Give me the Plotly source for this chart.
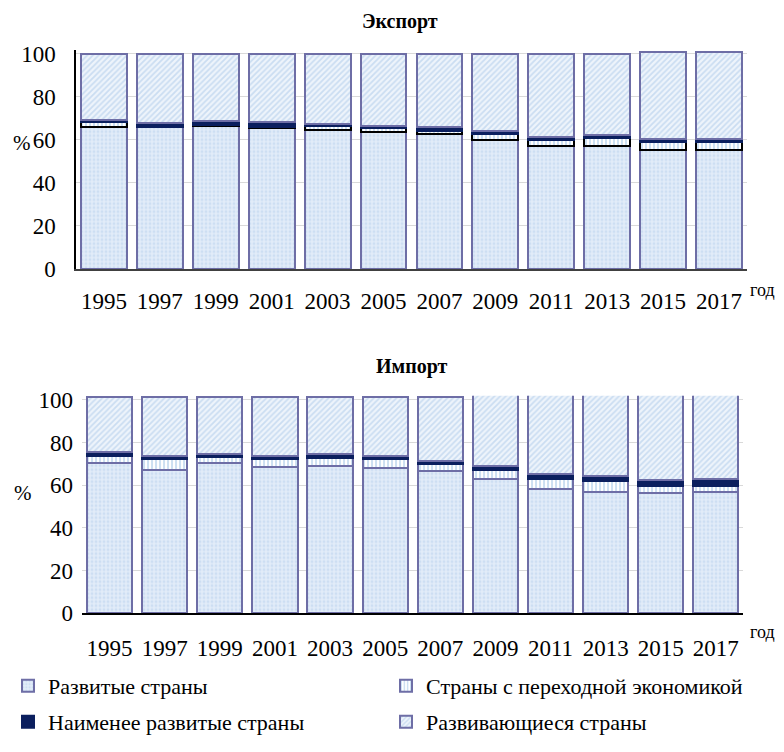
import plotly.graph_objects as go

# годы и доли (%)
years = ["1995", "1997", "1999", "2001", "2003", "2005",
         "2007", "2009", "2011", "2013", "2015", "2017"]

exp_dev = [66.2, 65.9, 66.6, 65.8, 64.8, 63.8, 62.9, 60.0, 57.2, 57.2, 55.3, 55.3]
exp_trans = [2.0, 0.3, 0.3, 0.3, 1.6, 1.8, 1.4, 2.8, 2.8, 3.7, 3.7, 3.7]
exp_ldc = [1.2, 1.5, 1.8, 2.3, 0.8, 0.8, 1.9, 1.5, 1.2, 1.3, 1.3, 1.3]
exp_total = [100, 100, 100, 100, 100, 100, 100, 100, 100, 100, 100.7, 100.7]

imp_dev = [70.3, 67.3, 70.3, 68.7, 69.2, 68.3, 66.7, 62.8, 58.1, 57.0, 56.2, 57.0]
imp_trans = [3.4, 4.8, 2.8, 3.5, 3.5, 3.8, 3.3, 4.6, 4.8, 4.8, 3.6, 2.7]
imp_ldc = [2.0, 1.6, 1.8, 1.6, 1.8, 1.5, 1.6, 1.6, 2.3, 2.4, 2.5, 3.2]
imp_total = [101.5, 101.5, 101.5, 101.5, 101.5, 101.5, 101.5, 103, 103, 103, 103, 103]

exp_devg = [t - a - b - c for t, a, b, c in zip(exp_total, exp_dev, exp_trans, exp_ldc)]
imp_devg = [t - a - b - c for t, a, b, c in zip(imp_total, imp_dev, imp_trans, imp_ldc)]

names = ["Развитые страны", "Страны с переходной экономикой",
         "Наименее развитые страны", "Развивающиеся страны"]

edge = "#6e6ea6"
font = "Liberation Serif, 'Times New Roman', DejaVu Serif, serif"

W, H = 776, 744  # страница имеет отступ 8 px

styles = [
    dict(color="#dfeaf6", pattern=dict(shape=".", fgcolor="#b8d0eb", bgcolor="#e2ecf8", size=4, solidity=0.4)),
    dict(color="white", pattern=dict(shape="|", fgcolor="#6fa6da", bgcolor="white", size=4, solidity=0.35)),
    dict(color="#0b1f5e"),
    dict(color="#eef4fb", pattern=dict(shape="/", fgcolor="#a6c6e8", bgcolor="#eef4fb", size=4, solidity=0.45)),
]

fig = go.Figure()

exp_series = [exp_dev, exp_trans, exp_ldc, exp_devg]
imp_series = [imp_dev, imp_trans, imp_ldc, imp_devg]
exp_lines = [edge, "black", "#0b1f5e", edge]
imp_lines = [edge, edge, "#0b1f5e", edge]
legends = ["legend", "legend", "legend2", "legend2"]

for i in range(4):
    fig.add_trace(go.Bar(
        x=years, y=exp_series[i], name=names[i], xaxis="x", yaxis="y",
        marker=dict(**styles[i], line=dict(color=exp_lines[i], width=2)),
        showlegend=False,
    ))
for i in range(4):
    fig.add_trace(go.Bar(
        x=years, y=imp_series[i], name=names[i], xaxis="x2", yaxis="y2",
        marker=dict(**styles[i], line=dict(color=imp_lines[i], width=2)),
        legend=legends[i],
    ))

tickfont = dict(family=font, size=23, color="black")
legfont = dict(family=font, size=22, color="black")

fig.update_layout(
    width=W, height=H,
    margin=dict(l=0, r=0, t=0, b=0, autoexpand=False),
    paper_bgcolor="white", plot_bgcolor="rgba(0,0,0,0)",
    barmode="stack", bargap=0.18,
    font=dict(family=font, size=20, color="black"),
    xaxis=dict(domain=[0.0876, 0.9523], anchor="y", type="category",
               showline=True, linecolor="#404040", linewidth=1.5,
               tickfont=tickfont, ticklabelstandoff=11, showgrid=False),
    yaxis=dict(domain=[0.6492, 0.9440], anchor="x", range=[0, 102],
               tickvals=[0, 20, 40, 60, 80, 100], showline=True,
               linecolor="black", linewidth=1.5, gridcolor="#d9d9d9",
               tickfont=tickfont, ticklabelstandoff=14, zeroline=False),
    xaxis2=dict(domain=[0.0954, 0.9477], anchor="y2", type="category",
                showline=True, linecolor="black", linewidth=1.5,
                tickfont=tickfont, ticklabelstandoff=13, showgrid=False),
    yaxis2=dict(domain=[0.1864, 0.4789], anchor="x2", range=[0, 102],
                tickvals=[0, 20, 40, 60, 80, 100], showline=False,
                gridcolor="#d9d9d9", tickfont=tickfont,
                ticklabelstandoff=8, zeroline=False),
    legend=dict(orientation="h", x=0.0, xanchor="left", y=0.0887, yanchor="middle",
                entrywidth=333, font=legfont, itemwidth=30, traceorder="normal",
                bgcolor="rgba(0,0,0,0)"),
    legend2=dict(orientation="h", x=0.0, xanchor="left", y=0.0403, yanchor="middle",
                 entrywidth=333, font=legfont, itemwidth=30, traceorder="normal",
                 bgcolor="rgba(0,0,0,0)"),
)

annots = [
    dict(text="<b>Экспорт</b>", x=392, y=14, size=20),
    dict(text="<b>Импорт</b>", x=404, y=358, size=20),
    dict(text="%", x=14, y=135, size=21),
    dict(text="%", x=15, y=485, size=21),
    dict(text="год", x=754, y=282, size=18),
    dict(text="год", x=754, y=624, size=18),
]
for a in annots:
    fig.add_annotation(text=a["text"], x=a["x"] / W, y=1 - a["y"] / H,
                       xref="paper", yref="paper", showarrow=False,
                       xanchor="center", yanchor="middle",
                       font=dict(family=font, size=a["size"], color="black"))

fig.write_html("out.html")
